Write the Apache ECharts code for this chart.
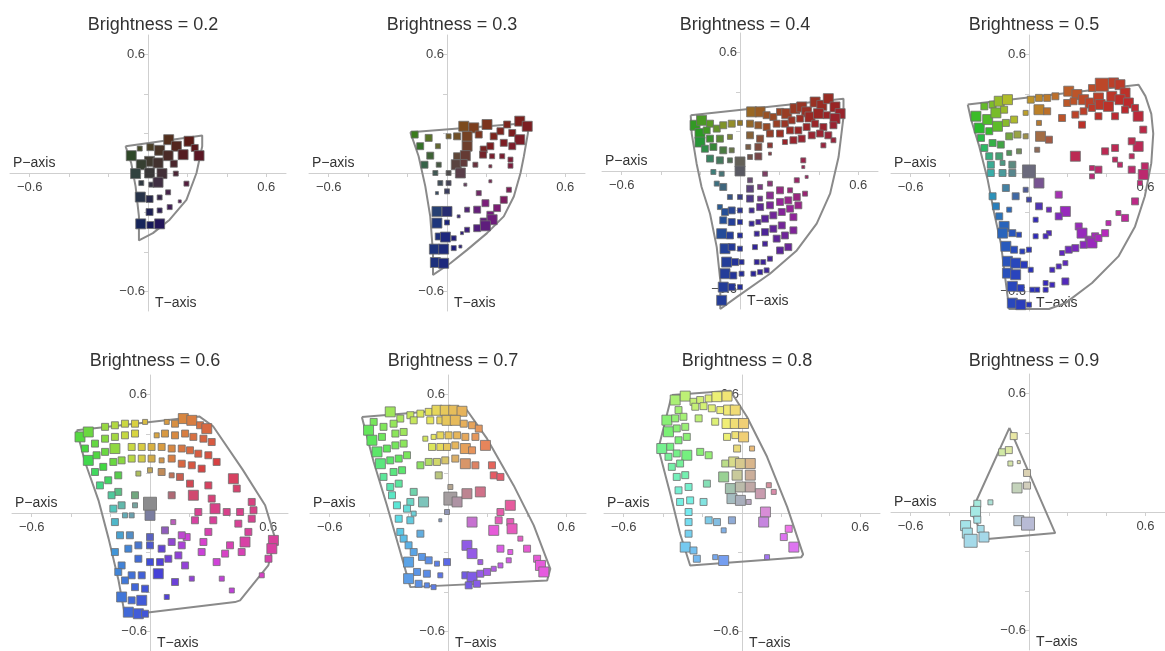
<!DOCTYPE html>
<html>
<head>
<meta charset="utf-8">
<title>Brightness slices</title>
<script src="https://cdn.jsdelivr.net/npm/echarts@6/dist/echarts.min.js"></script>
<style>
  html, body { margin: 0; padding: 0; background: #fff; }
  #main { width: 1165px; height: 651px; }
</style>
</head>
<body>
<div id="main"></div>
<script>
// 每个面板一组数据: [P, T, 方块大小等级]
var titles = ['Brightness = 0.2', 'Brightness = 0.3', 'Brightness = 0.4', 'Brightness = 0.5',
  'Brightness = 0.6', 'Brightness = 0.7', 'Brightness = 0.8', 'Brightness = 0.9']
var tickValues = [-0.6, -0.4, -0.2, 0.2, 0.4, 0.6]
var labelValues = [-0.6, 0.6]

var p02 = [[-0.042,0.124,2],[0.012,0.131,3],[0.105,0.169,4],[0.208,0.161,4],
  [-0.085,0.088,4],[0.059,0.115,4],[0.144,0.136,4],[0.237,0.127,3],
  [0.008,0.059,4],[0.102,0.088,4],[0.178,0.093,4],[0.259,0.088,4],
  [-0.034,0.042,4],[0.051,0.051,4],[0.131,0.047,3],
  [-0.063,-0.003,4],[0.008,0,4],[0.071,-0.003,4],[0.141,-0.003,2],
  [-0.034,-0.051,2],[0.017,-0.059,2],[0.051,-0.047,4],[0.195,-0.054,2],
  [-0.039,-0.122,4],[0.008,-0.132,3],[0.059,-0.124,2],[0.102,-0.098,2],[0.161,-0.144,1],
  [0.11,-0.173,2],[0.008,-0.198,3],[0.059,-0.19,2],
  [-0.037,-0.258,4],[0.012,-0.264,3],[0.059,-0.258,4]]

var p03 = [[-0.164,0.195,3],[-0.136,0.136,3],[-0.093,0.178,3],[-0.085,0.088,3],[-0.114,0.042,3],
  [-0.046,0.136,2],[-0.042,0.042,2],[-0.059,0,2],
  [0.085,0.237,4],[0.136,0.229,4],[0.203,0.246,4],[0.305,0.246,3],[0.369,0.263,4],[0.407,0.237,4],
  [0.051,0.186,3],[0.102,0.186,4],[0.161,0.195,3],[0.237,0.186,3],[0.271,0.212,3],[0.331,0.203,3],[0.369,0.169,4],
  [0.008,0.186,2],[0.102,0.136,4],[0.186,0.119,3],[0.22,0.136,3],[0.288,0.153,3],[0.331,0.136,3],
  [0.051,0.085,3],[0.093,0.088,4],[0.183,0.093,3],[0.229,0.085,2],[0.28,0.085,2],[0.322,0.068,2],
  [0.047,0.042,4],[0.085,0.051,3],[0.144,0.042,2],[0.22,0.034,1],[0.322,0.037,2],
  [0.068,0,4],[0.008,0,2],[-0.034,-0.051,2],[0.008,-0.051,2],[-0.051,-0.102,1],[0,-0.093,2],
  [0.093,-0.059,1],[0.22,-0.042,1],
  [0.314,-0.085,2],[0.288,-0.136,3],[0.254,-0.178,3],[0.22,-0.212,3],[0.186,-0.246,3],[0.153,-0.28,3],
  [0.229,-0.237,4],[0.195,-0.268,4],[0.195,-0.153,3],[0.153,-0.186,3],[0.161,-0.102,2],
  [0.102,-0.186,2],[0.059,-0.22,1],
  [-0.051,-0.195,4],[0,-0.195,4],[-0.051,-0.254,4],[0,-0.251,2],
  [-0.042,-0.322,3],[-0.008,-0.325,4],[0.034,-0.331,2],
  [-0.064,-0.386,4],[-0.017,-0.386,4],[0.034,-0.381,2],[0.068,-0.373,1],
  [-0.059,-0.454,4],[-0.017,-0.458,4],[0.076,-0.305,1],[0.102,-0.288,2]]

var p04 = [[-0.228,0.232,4],[-0.195,0.257,4],[-0.152,0.24,3],[-0.203,0.19,4],[-0.169,0.206,3],
  [-0.118,0.215,3],[-0.085,0.232,3],[-0.042,0.24,3],[-0.203,0.147,4],[-0.152,0.164,3],
  [-0.102,0.164,3],[-0.051,0.173,2],[0,0.244,2],[-0.178,0.113,3],[-0.135,0.122,3],
  [-0.085,0.105,3],[-0.042,0.105,2],[-0.152,0.063,3],[-0.102,0.054,3],[-0.051,0.054,2],
  [0,0.046,4],[0,0,4],[-0.093,-0.014,2],[-0.135,-0.005,2],
  [-0.118,-0.064,2],[-0.085,-0.081,3],[-0.051,-0.132,2],[0,-0.132,2],[-0.102,-0.183,2],
  [-0.076,-0.208,3],[-0.042,-0.2,3],[0,-0.2,2],[-0.085,-0.25,3],[-0.042,-0.259,3],[0,-0.259,2],
  [-0.093,-0.318,4],[-0.051,-0.327,3],[0,-0.327,2],[-0.076,-0.394,4],[-0.042,-0.386,3],[0,-0.394,2],
  [-0.068,-0.462,4],[-0.025,-0.462,3],[0.008,-0.462,2],[-0.076,-0.521,4],[-0.034,-0.53,3],[0.008,-0.521,2],
  [-0.085,-0.589,4],[-0.042,-0.589,3],[0,-0.589,2],[-0.093,-0.656,4],
  [0.059,0.3,4],[0.102,0.3,4],[0.135,0.283,3],[0.169,0.274,3],[0.203,0.3,3],[0.237,0.291,4],
  [0.279,0.316,4],[0.313,0.325,4],[0.338,0.3,4],[0.381,0.35,4],[0.415,0.333,4],[0.448,0.367,4],
  [0.482,0.325,4],[0.508,0.291,4],
  [0.051,0.24,3],[0.093,0.232,3],[0.135,0.223,3],[0.186,0.24,3],[0.228,0.24,3],[0.262,0.257,3],
  [0.305,0.266,3],[0.355,0.274,4],[0.398,0.291,4],[0.44,0.283,3],[0.482,0.266,4],
  [0.051,0.181,3],[0.102,0.164,3],[0.152,0.19,3],[0.203,0.19,3],[0.254,0.206,3],[0.296,0.206,3],
  [0.338,0.223,3],[0.381,0.24,3],[0.423,0.223,3],[0.474,0.232,3],
  [0.042,0.122,2],[0.093,0.122,3],[0.152,0.13,2],[0.228,0.147,2],[0.271,0.156,3],[0.313,0.164,3],
  [0.364,0.181,3],[0.406,0.19,3],[0.448,0.181,3],[0.474,0.156,2],
  [0.051,0.071,2],[0.093,0.074,3],[0.152,0.088,1],[0.321,0.054,2],[0.423,0.13,2],
  [0.127,-0.014,2],[0.321,0.02,1],[0.051,-0.047,2],
  [0.051,-0.09,3],[0.102,-0.081,2],[0.152,-0.064,2],[0.288,-0.047,2],[0.338,-0.03,1],
  [0.051,-0.14,3],[0.102,-0.14,2],[0.152,-0.124,3],[0.203,-0.098,3],[0.254,-0.098,2],
  [0.059,-0.2,2],[0.102,-0.183,3],[0.152,-0.174,3],[0.203,-0.157,3],[0.245,-0.149,3],[0.288,-0.132,3],[0.33,-0.115,2],
  [0.059,-0.267,2],[0.093,-0.259,2],[0.127,-0.242,3],[0.169,-0.225,3],[0.212,-0.208,3],[0.254,-0.191,3],[0.296,-0.174,3],
  [0.085,-0.318,2],[0.127,-0.31,3],[0.169,-0.293,3],[0.212,-0.276,3],[0.271,-0.234,3],
  [0.076,-0.386,2],[0.127,-0.369,2],[0.186,-0.343,3],[0.228,-0.327,3],[0.271,-0.301,3],
  [0.085,-0.462,2],[0.118,-0.462,2],[0.152,-0.445,2],[0.203,-0.403,3],[0.245,-0.386,3],
  [0.068,-0.521,2],[0.102,-0.513,2],[0.135,-0.504,2]]

var p05 = [[-0.266,0.288,4],[-0.223,0.338,3],[-0.181,0.347,3],[-0.147,0.364,4],[-0.105,0.372,4],
  [-0.249,0.228,4],[-0.206,0.271,4],[-0.164,0.305,4],[-0.122,0.321,3],
  [-0.24,0.178,3],[-0.198,0.212,3],[-0.156,0.237,4],[-0.113,0.254,3],[-0.071,0.271,3],
  [-0.223,0.127,3],[-0.181,0.152,3],[-0.139,0.144,3],[-0.096,0.186,3],[-0.054,0.195,3],[-0.012,0.186,2],
  [-0.198,0.085,3],[-0.147,0.085,3],[-0.096,0.102,2],[-0.046,0.11,2],
  [-0.19,0.042,3],[-0.13,0.051,2],[-0.08,0.042,3],
  [-0.19,0,3],[-0.13,0,3],[-0.08,0,3],[0.005,0.008,5],[0.056,-0.051,4],
  [0.014,0.372,3],[0.056,0.381,3],[0.098,0.381,3],[0.14,0.389,3],
  [0.056,0.321,4],[0.098,0.313,3],[0.174,0.279,3],[-0.012,0.305,2],[0.056,0.254,2],
  [0.064,0.186,4],[0.107,0.169,3],[0.047,0.118,2],
  [0.208,0.415,4],[0.25,0.398,4],[0.327,0.431,3],[0.377,0.448,5],[0.437,0.457,4],[0.47,0.448,4],[0.496,0.406,4],
  [0.2,0.355,3],[0.233,0.364,3],[0.284,0.372,4],[0.318,0.355,4],[0.36,0.381,4],[0.428,0.389,4],[0.47,0.372,4],[0.513,0.355,4],
  [0.242,0.296,3],[0.284,0.313,3],[0.327,0.33,3],[0.369,0.347,4],[0.411,0.338,4],[0.496,0.321,3],[0.547,0.33,3],
  [0.276,0.245,3],[0.36,0.288,3],[0.445,0.288,3],[0.563,0.288,4],[0.589,0.22,3],
  [0.563,0.135,4],[0.53,0.161,3],[0.445,0.127,3],[0.394,0.11,3],[0.53,0.085,2],
  [0.597,0.034,3],[0.589,-0.008,4],[0.53,0.017,3],[0.47,0.042,2],[0.445,0.068,2],[0.36,0.017,3],
  [0.242,0.085,4],[0.327,0.025,2],[0.327,-0.017,2],[0.572,-0.051,2],[0.547,-0.144,3],[0.496,-0.228,3],
  [0.157,-0.11,3],[0.191,-0.195,4],[0.259,-0.271,3],[0.276,-0.305,4],[0.31,-0.338,3],[0.343,-0.321,3],
  [0.411,-0.254,2],[0.462,-0.203,2],
  [0.174,-0.406,2],[0.208,-0.389,3],[0.242,-0.381,3],[0.284,-0.364,3],[0.327,-0.355,4],[0.36,-0.33,3],[0.394,-0.305,3],
  [0.124,-0.491,2],[0.157,-0.474,2],[0.191,-0.457,2],
  [0.09,-0.558,2],[0.124,-0.567,2],[0.191,-0.55,3],[0.047,-0.592,2],[0.09,-0.592,2],
  [-0.113,-0.076,3],[-0.012,-0.085,2],[-0.063,-0.118,3],[0.005,-0.135,2],[0.056,-0.169,3],[0.107,-0.186,2],
  [-0.096,-0.186,2],[0.039,-0.237,2],[0.107,-0.305,2],[0.157,-0.22,3],[0.039,-0.321,2],[0.09,-0.321,2],
  [-0.181,-0.118,3],[-0.164,-0.169,3],
  [-0.147,-0.22,3],[-0.122,-0.271,4],[-0.13,-0.305,4],[-0.08,-0.305,3],[-0.046,-0.313,2],
  [-0.113,-0.372,4],[-0.071,-0.389,3],[-0.029,-0.398,2],[-0.105,-0.448,4],[-0.063,-0.457,4],[-0.02,-0.465,3],
  [-0.105,-0.508,4],[-0.063,-0.516,4],[-0.08,-0.575,4],[-0.037,-0.584,3],
  [-0.08,-0.66,4],[-0.037,-0.668,4],[0.005,-0.668,2],[0.005,-0.389,2],[0.014,-0.491,2],[0.022,-0.592,2]]

var p06 = [[-0.355,0.386,4],[-0.313,0.411,4],[-0.228,0.437,3],[-0.178,0.445,3],[-0.127,0.453,3],
  [-0.076,0.453,3],[-0.025,0.462,2],[0.085,0.462,2],[0.127,0.453,3],[0.169,0.479,4],[0.212,0.47,4],
  [0.254,0.445,3],[0.288,0.428,4],
  [-0.33,0.327,3],[-0.279,0.352,3],[-0.228,0.377,3],[-0.178,0.386,3],[-0.127,0.394,3],[-0.076,0.403,3],
  [0.034,0.394,2],[0.076,0.403,3],[0.127,0.394,3],[0.178,0.403,3],[0.22,0.386,3],[0.271,0.377,3],[0.313,0.36,3],
  [-0.313,0.267,4],[-0.271,0.293,3],[-0.228,0.31,3],[-0.178,0.327,4],[-0.093,0.335,3],[-0.042,0.335,3],
  [0.008,0.335,3],[0.059,0.335,3],[0.11,0.327,3],[0.161,0.327,3],[0.203,0.318,3],[0.245,0.301,3],
  [0.296,0.293,3],[0.338,0.259,3],
  [-0.279,0.208,3],[-0.237,0.234,3],[-0.186,0.259,3],[-0.144,0.267,3],[-0.093,0.276,3],[-0.042,0.276,3],
  [0.008,0.276,3],[0.059,0.267,2],[0.11,0.276,3],[0.161,0.25,3],[0.212,0.242,3],[0.262,0.225,3],
  [-0.254,0.14,3],[-0.212,0.166,3],[-0.161,0.191,3],[-0.059,0.2,2],[0,0.217,2],[0.059,0.208,3],
  [0.11,0.191,2],[0.152,0.183,3],
  [0.203,0.149,3],[0.22,0.09,4],[0.245,0.005,3],[0.228,-0.037,3],[0.186,-0.122,3],[0.161,-0.164,3],
  [0.296,0.14,3],[0.313,0.073,3],[0.33,0.022,4],[0.321,-0.037,3],[0.296,-0.096,3],[0.271,-0.147,3],[0.262,-0.198,3],
  [0.423,0.174,4],[0.44,0.124,3],[0.457,0.005,3],[0.448,-0.054,3],[0.406,-0.164,3],[0.381,-0.206,3],[0.338,-0.249,3],
  [0.516,0.056,3],[0.525,0.014,3],[0.516,-0.029,3],[0.499,-0.096,3],[0.482,-0.147,4],[0.465,-0.198,3],
  [0.626,-0.139,4],[0.618,-0.181,4],[0.601,-0.232,3],[0.567,-0.316,2],[0.389,0.005,3],
  [0,0.047,5],[0,-0.012,4],[-0.076,0.09,3],[0.11,0.09,3],[-0.076,0.039,2],[-0.093,-0.012,2],
  [0,-0.122,3],[0.076,-0.088,3],[0.118,-0.046,2],
  [-0.161,0.107,3],[-0.144,0.039,3],[-0.127,-0.012,2],[-0.102,-0.113,3],[-0.059,-0.164,3],[0,-0.164,3],
  [0.059,-0.181,3],[0.11,-0.147,3],[0.161,-0.113,3],
  [-0.195,0.09,3],[-0.186,0.022,3],[-0.178,-0.046,3],[-0.152,-0.113,3],[-0.11,-0.181,3],[-0.059,-0.232,3],
  [0,-0.249,3],[0.051,-0.249,3],[0.093,-0.232,3],[0.144,-0.215,3],
  [-0.178,-0.198,3],[-0.144,-0.266,3],[-0.093,-0.316,3],[-0.042,-0.316,3],[0.042,-0.308,4],[0.178,-0.266,3],
  [-0.161,-0.299,3],[-0.127,-0.342,3],[-0.076,-0.376,3],[-0.025,-0.384,3],[0.127,-0.35,3],
  [-0.144,-0.426,4],[-0.093,-0.443,3],[-0.042,-0.443,4],[0.085,-0.426,2],
  [-0.11,-0.503,4],[-0.059,-0.511,4],[-0.025,-0.511,3],
  [0.364,-0.333,2],[0.415,-0.393,2],[0.212,-0.333,2]]

var p07 = [[-0.377,0.462,3],[-0.293,0.513,4],[-0.242,0.479,3],[-0.191,0.496,3],[-0.14,0.504,3],
  [-0.098,0.513,3],[-0.056,0.521,4],[-0.014,0.521,4],[0.029,0.521,4],[0.071,0.516,4],
  [-0.403,0.42,4],[-0.327,0.437,3],[-0.276,0.453,3],[-0.174,0.47,3],[-0.09,0.47,3],[-0.039,0.47,3],
  [-0.005,0.47,4],[0.037,0.47,4],[0.08,0.453,3],[0.122,0.445,3],[0.156,0.428,3],
  [-0.386,0.369,4],[-0.335,0.386,3],[-0.267,0.403,3],[-0.225,0.411,3],[-0.115,0.377,2],[-0.073,0.386,2],
  [-0.039,0.394,3],[0.003,0.394,3],[0.046,0.394,3],[0.088,0.386,3],[0.139,0.386,3],[0.19,0.343,4],
  [-0.36,0.31,4],[-0.31,0.327,3],[-0.267,0.343,3],[-0.225,0.352,3],[-0.081,0.335,3],[-0.039,0.335,3],
  [-0.005,0.335,3],[0.037,0.343,3],[0.088,0.327,4],[0.122,0.318,3],
  [-0.343,0.25,4],[-0.293,0.267,3],[-0.25,0.276,3],[-0.208,0.293,3],[-0.098,0.259,3],[-0.056,0.259,3],
  [-0.014,0.267,3],[0.037,0.276,3],[0.088,0.25,4],[0.139,0.242,3],[0.223,0.242,3],
  [-0.327,0.183,3],[-0.276,0.208,3],[-0.233,0.217,3],[-0.14,0.242,3],[-0.047,0.191,3],[0.232,0.191,3],[0.266,0.183,3],
  [-0.293,0.132,3],[-0.25,0.149,3],[-0.174,0.107,3],[-0.284,0.09,3],[-0.124,0.056,4],[-0.191,0.056,3],
  [-0.259,0.039,3],[-0.208,0.022,3],[-0.174,-0.003,2],[-0.005,0.005,2],[-0.25,-0.029,3],[-0.191,-0.037,3],
  [-0.242,-0.096,3],[-0.14,-0.105,3],[-0.225,-0.13,3],[-0.2,-0.164,3],[-0.174,-0.198,3],[-0.132,-0.223,3],
  [-0.098,-0.24,3],[-0.056,-0.257,2],[-0.2,-0.249,4],[-0.157,-0.299,3],[-0.107,-0.308,3],[-0.039,-0.316,2],
  [-0.2,-0.333,4],[-0.149,-0.359,3],[-0.107,-0.367,2],[-0.073,-0.376,2],
  [0.012,0.073,5],[0.046,0.056,4],[0.096,0.098,4],[0.164,0.107,4],[0.012,0.132,2],[-0.039,-0.037,1],[0.122,-0.046,4],
  [0.316,0.039,4],[0.266,0.005,3],[0.257,-0.037,3],[0.316,-0.046,3],[0.325,-0.08,4],[0.232,-0.088,4],
  [0.401,-0.181,3],[0.452,-0.232,3],[0.469,-0.266,4],[0.486,-0.299,4],[0.316,-0.198,2],[0.266,-0.181,3],[0.367,-0.13,2],
  [0.096,-0.164,4],[0.122,-0.206,4],[0.164,-0.249,2],[0.088,-0.316,3],[0.122,-0.325,4],[0.164,-0.308,3],
  [0.198,-0.299,3],[0.232,-0.283,2],[0.266,-0.266,2],[0.308,-0.24,2],[0.105,-0.367,3],[0.147,-0.359,3],
  [-0.005,-0.249,3]]

var p08 = [[-0.339,0.573,4],[-0.288,0.593,4],[-0.246,0.564,3],[-0.212,0.573,3],[-0.169,0.581,3],
  [-0.127,0.59,4],[-0.076,0.593,4],
  [-0.322,0.522,3],[-0.237,0.539,3],[-0.195,0.542,3],[-0.153,0.531,3],[-0.11,0.522,3],[-0.068,0.522,4],[-0.034,0.522,4],
  [-0.381,0.471,4],[-0.339,0.48,3],[-0.297,0.488,3],[-0.22,0.48,3],[-0.136,0.463,3],[-0.076,0.454,4],
  [-0.034,0.454,4],[0.008,0.454,4],
  [-0.373,0.412,4],[-0.331,0.429,3],[-0.288,0.437,3],[-0.076,0.386,3],[-0.034,0.395,3],[0.008,0.386,4],
  [-0.407,0.327,4],[-0.364,0.336,3],[-0.322,0.369,3],[-0.28,0.386,3],[-0.025,0.327,3],[0.051,0.327,2],
  [-0.373,0.285,3],[-0.331,0.302,3],[-0.28,0.293,4],[-0.212,0.31,3],[-0.169,0.293,3],
  [-0.085,0.251,3],[-0.042,0.259,4],[-0.008,0.251,4],[0.042,0.251,4],
  [-0.356,0.234,3],[-0.314,0.251,3],[-0.093,0.183,4],[-0.025,0.192,4],[0.042,0.192,4],
  [-0.331,0.183,3],[-0.288,0.192,3],[-0.178,0.149,3],[-0.059,0.124,4],[-0.008,0.132,4],[0.042,0.132,4],
  [0.093,0.098,4],[0.136,0.141,2],[0.161,0.107,2],
  [-0.322,0.115,3],[-0.271,0.132,3],[-0.195,0.056,3],[-0.051,0.073,4],[-0.008,0.064,4],[0.034,0.056,2],
  [-0.314,0.056,3],[-0.263,0.064,3],[-0.271,0.005,3],[-0.127,-0.046,3],[-0.051,-0.037,3],[-0.093,-0.088,2],
  [-0.271,-0.046,3],[-0.169,-0.037,3],[-0.271,-0.105,3],
  [-0.288,-0.173,4],[-0.246,-0.19,3],[-0.229,-0.232,3],[-0.136,-0.224,2],[-0.093,-0.241,4],
  [0.119,0.005,4],[0.11,-0.046,4],[0.237,-0.08,3],[0.212,-0.122,3],[0.263,-0.173,4],[0.127,-0.224,2]]

var p09 = [[-0.073,0.385,3],[-0.132,0.303,3],[-0.098,0.314,3],[-0.09,0.246,2],[-0.047,0.253,1],
  [-0.005,0.198,3],[-0.056,0.122,4],[-0.005,0.134,3],[-0.192,0.049,2],
  [-0.259,0.042,3],[-0.268,0.003,4],[-0.259,-0.039,3],[-0.319,-0.069,4],[-0.31,-0.107,4],
  [-0.293,-0.146,5],[-0.242,-0.086,3],[-0.225,-0.127,4],[-0.047,-0.044,4],[0,-0.059,5]]

// 外框轮廓
var o02 = [[-0.114,0.136],[0.275,0.19],[0.275,0.136],[0.246,0],[0.195,-0.136],[0.11,-0.237],
  [0.025,-0.305],[-0.046,-0.342],[-0.046,-0.22],[-0.063,-0.068],[-0.085,0.05],[-0.114,0.136]]
var o03 = [[-0.186,0.207],[0.415,0.254],[0.41,0.2],[0.39,0.085],[0.373,0],[0.339,-0.119],[0.288,-0.22],
  [0.203,-0.305],[0.102,-0.39],[0.017,-0.458],[-0.071,-0.517],[-0.071,-0.407],[-0.085,-0.22],
  [-0.11,-0.068],[-0.144,0.085],[-0.186,0.207]]
var o04 = [[-0.25,0.283],[0.525,0.367],[0.525,0.274],[0.5,0.071],[0.457,-0.115],[0.389,-0.267],
  [0.288,-0.403],[0.152,-0.521],[-0.017,-0.64],[-0.1,-0.7],[-0.1,-0.555],[-0.118,-0.386],
  [-0.152,-0.217],[-0.195,-0.081],[-0.22,0.037],[-0.245,0.19],[-0.25,0.283]]
var o05 = [[-0.308,0.347],[0.565,0.448],[0.6,0.39],[0.63,0.3],[0.64,0.2],[0.63,0.05],[0.597,-0.118],
  [0.547,-0.271],[0.462,-0.423],[0.327,-0.558],[0.191,-0.66],[0.107,-0.69],[-0.096,-0.69],
  [-0.113,-0.558],[-0.139,-0.355],[-0.173,-0.203],[-0.206,-0.034],[-0.249,0.135],[-0.291,0.271],[-0.308,0.347]]
var o06 = [[-0.372,0.42],[0.25,0.49],[0.32,0.44],[0.47,0.22],[0.584,0.039],[0.635,-0.13],[0.6,-0.266],
  [0.457,-0.443],[0.431,-0.452],[-0.127,-0.519],[-0.16,-0.34],[-0.21,-0.13],[-0.26,0.06],[-0.33,0.26],[-0.372,0.42]]
var o07 = [[-0.437,0.487],[0.09,0.53],[0.198,0.377],[0.333,0.14],[0.435,-0.063],[0.519,-0.283],
  [0.503,-0.342],[-0.191,-0.376],[-0.242,-0.198],[-0.31,0.039],[-0.377,0.259],[-0.437,0.487]]
var o08 = [[-0.356,0.598],[-0.059,0.62],[0.025,0.488],[0.127,0.285],[0.229,0.031],[0.31,-0.21],
  [0.3,-0.225],[-0.263,-0.266],[-0.314,-0.105],[-0.364,0.098],[-0.424,0.327],[-0.356,0.598]]
var o09 = [[-0.095,0.427],[0.139,-0.107],[-0.208,-0.137],[-0.25,-0.08],[-0.29,0],[-0.095,0.427]]

var panels = [p02, p03, p04, p05, p06, p07, p08, p09]
var outlines = [o02, o03, o04, o05, o06, o07, o08, o09]

// 布局: 每个面板坐标原点的像素位置
var centers = [[148, 173], [447, 173], [740, 171], [1029, 173],
  [150, 513], [448, 513], [742, 513], [1029, 512]]
var half = 138
var sizeMap = [0, 3, 5, 7, 10, 13]
// 色相中性点 / 亮度 / 饱和度
var neutral = [[0, 0], [0, 0], [0, 0.02], [0, 0.04], [0, 0.05], [0, 0.07], [0, 0.1], [0, 0.05]]
var light = [0.22, 0.3, 0.37, 0.45, 0.55, 0.63, 0.7, 0.78]
var satMax = [0.6, 0.62, 0.62, 0.64, 0.66, 0.74, 0.8, 0.6]
var angStops = [0, 20, 45, 65, 90, 110, 135, 170, 195, 225, 255, 275, 305, 335, 360]
var hueStops = [335, 350, 370, 385, 405, 428, 470, 520, 540, 560, 580, 600, 640, 678, 695]

function hueAt(th) {
  for (var i = 1; i < angStops.length; i++) {
    if (th <= angStops[i]) {
      var t = (th - angStops[i - 1]) / (angStops[i] - angStops[i - 1])
      return (hueStops[i - 1] + t * (hueStops[i] - hueStops[i - 1])) % 360
    }
  }
  return hueStops[0]
}

function colorOf(x, y, k) {
  var dx = x - neutral[k][0]
  var dy = y - neutral[k][1]
  var r = Math.sqrt(dx * dx + dy * dy)
  var th = Math.atan2(dy, dx) * 180 / Math.PI
  if (th < 0) th += 360
  var s = satMax[k] * Math.min(1, r / 0.25)
  return 'hsl(' + hueAt(th).toFixed(0) + ',' + (s * 100).toFixed(0) + '%,' + (light[k] * 100).toFixed(0) + '%)'
}

function fmt(v) {
  return v < 0 ? '\u2212' + (-v) : String(v)
}

var font = 'Liberation Sans, Arial, sans-serif'
var grids = [], xAxes = [], yAxes = [], series = [], titleList = [], texts = []

for (var k = 0; k < 8; k++) {
  var cx = centers[k][0], cy = centers[k][1]
  grids.push({ left: cx - half, top: cy - half, width: half * 2, height: half * 2 })
  titleList.push({
    text: titles[k], left: cx, top: k < 4 ? 11 : 347, textAlign: 'center',
    textStyle: { fontSize: 18, fontWeight: 'normal', color: '#333', fontFamily: font }
  })
  // 轴名
  texts.push({
    type: 'text', left: cx - half + 3, top: cy - 17,
    style: { text: 'P\u2212axis', fill: '#333', font: '14px ' + font }
  })
  texts.push({
    type: 'text', left: cx + 7, top: cy + half - 15,
    style: { text: 'T\u2212axis', fill: '#333', font: '14px ' + font }
  })
  // 坐标轴移到原点 (offset 向内)
  xAxes.push({
    type: 'value', gridIndex: k, min: -0.7, max: 0.7, position: 'bottom', offset: -half,
    axisLine: { onZero: false, lineStyle: { color: '#cfcfcf', width: 1 } },
    axisTick: { customValues: tickValues, length: 4, lineStyle: { color: '#cfcfcf' } },
    axisLabel: { customValues: labelValues, formatter: fmt, fontSize: 13, color: '#444', fontFamily: font, margin: 8 },
    splitLine: { show: false }
  })
  yAxes.push({
    type: 'value', gridIndex: k, min: -0.7, max: 0.7, position: 'left', offset: -half,
    axisLine: { onZero: false, lineStyle: { color: '#cfcfcf', width: 1 } },
    axisTick: { customValues: tickValues, length: 4, lineStyle: { color: '#cfcfcf' } },
    axisLabel: { customValues: labelValues, formatter: fmt, fontSize: 13, color: '#444', fontFamily: font, margin: 3 },
    splitLine: { show: false }
  })
  series.push({
    type: 'line', xAxisIndex: k, yAxisIndex: k, data: outlines[k],
    symbol: 'none', silent: true, z: 1,
    lineStyle: { color: '#8a8a8a', width: 2 }
  })
  series.push({
    type: 'scatter', xAxisIndex: k, yAxisIndex: k, data: panels[k],
    symbol: 'rect', z: 3,
    symbolSize: function (v) { return sizeMap[v[2]] },
    itemStyle: {
      color: (function (kk) {
        return function (p) { return colorOf(p.value[0], p.value[1], kk) }
      })(k),
      borderColor: '#6f6f6f', borderWidth: 0.8, opacity: 1
    }
  })
}

var myChart = echarts.init(document.getElementById('main'))
myChart.setOption({
  animation: false,
  backgroundColor: '#fff',
  title: titleList,
  graphic: texts,
  grid: grids,
  xAxis: xAxes,
  yAxis: yAxes,
  series: series
})
</script>
</body>
</html>
